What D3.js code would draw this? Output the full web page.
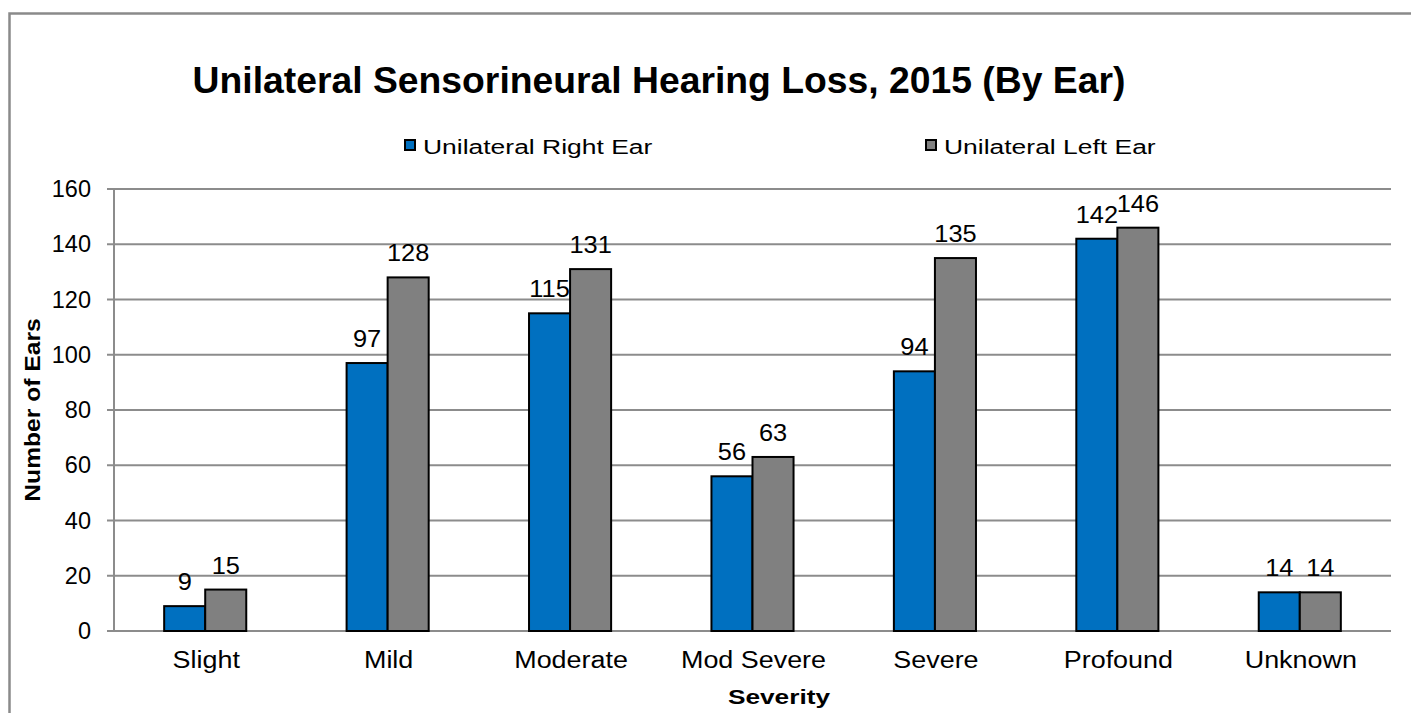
<!DOCTYPE html>
<meta charset="utf-8">
<script src="https://d3js.org/d3.v7.min.js"></script>
<style>
  body { margin: 0; background: #fff; }
  text { font-family: "Liberation Sans", Arial, sans-serif; fill: #000; }
</style>
<div id="chart"></div>
<script>

// data
var categories = ["Slight", "Mild", "Moderate", "Mod Severe", "Severe", "Profound", "Unknown"];
var seriesNames = ["Unilateral Right Ear", "Unilateral Left Ear"];
var rightEar = [9, 97, 115, 56, 94, 142, 14];
var leftEar = [15, 128, 131, 63, 135, 146, 14];
var yTicks = [0, 20, 40, 60, 80, 100, 120, 140, 160];
var colors = ["#0070C0", "#808080"];

var width = 1411, height = 713;
var margin = {left: 114, right: 20, top: 189, bottom: 82};

var svg = d3.select("#chart").append("svg")
    .attr("width", width)
    .attr("height", height);

// outer chart border (right/bottom edges are off the picture)
svg.append("rect")
    .attr("x", 9.5).attr("y", 13.5)
    .attr("width", 1430).attr("height", 740)
    .attr("fill", "none")
    .attr("stroke", "#8a8a8a")
    .attr("stroke-width", 2.5);

var x = d3.scaleBand()
    .domain(categories)
    .range([margin.left, width - margin.right]);

var groupW = x.bandwidth() * 0.45;
var xs = d3.scaleBand()
    .domain(d3.range(seriesNames.length))
    .range([0, groupW]);

var y = d3.scaleLinear()
    .domain([0, 160])
    .range([height - margin.bottom, margin.top]);

// gridlines
svg.append("g")
  .selectAll("line")
  .data(yTicks)
  .enter().append("line")
    .attr("x1", margin.left - 7)
    .attr("x2", width - margin.right)
    .attr("y1", d => y(d))
    .attr("y2", d => y(d))
    .attr("stroke", "#8c8c8c")
    .attr("stroke-width", 2);

// y axis line
svg.append("line")
    .attr("x1", margin.left).attr("x2", margin.left)
    .attr("y1", y(160)).attr("y2", y(0))
    .attr("stroke", "#8c8c8c")
    .attr("stroke-width", 2);

// y tick labels
svg.append("g")
  .selectAll("text")
  .data(yTicks)
  .enter().append("text")
    .attr("x", 91)
    .attr("y", d => y(d))
    .attr("dy", "0.35em")
    .attr("text-anchor", "end")
    .style("font-size", "23.5px")
    .text(d => d);

// bars
var data = categories.map(function(c, i) {
  return {cat: c, values: [rightEar[i], leftEar[i]]};
});

var groups = svg.append("g")
  .selectAll("g")
  .data(data)
  .enter().append("g")
    .attr("transform", d => "translate(" + (x(d.cat) + (x.bandwidth() - groupW) / 2) + ",0)");

groups.selectAll("rect")
  .data(d => d.values)
  .enter().append("rect")
    .attr("x", (d, i) => xs(i))
    .attr("y", d => y(d))
    .attr("width", xs.bandwidth())
    .attr("height", d => y(0) - y(d))
    .attr("fill", (d, i) => colors[i])
    .attr("stroke", "#000")
    .attr("stroke-width", 2);

// bar value labels (slightly widened like the original)
groups.selectAll("text")
  .data(d => d.values)
  .enter().append("text")
    .attr("transform", (d, i) => "translate(" + (xs(i) + xs.bandwidth() / 2) + "," + (y(d) - 16) + ") scale(1.08,1)")
    .attr("text-anchor", "middle")
    .style("font-size", "23.5px")
    .text(d => d);

// x category labels
svg.append("g")
  .selectAll("text")
  .data(categories)
  .enter().append("text")
    .attr("transform", d => "translate(" + (x(d) + x.bandwidth() / 2 + 1) + ",668) scale(1.17,1)")
    .attr("text-anchor", "middle")
    .style("font-size", "23px")
    .text(d => d);

// title
svg.append("text")
    .attr("x", 659)
    .attr("y", 93)
    .attr("text-anchor", "middle")
    .style("font-size", "37.3px")
    .style("font-weight", "bold")
    .text("Unilateral Sensorineural Hearing Loss, 2015 (By Ear)");

// axis titles
svg.append("text")
    .attr("transform", "translate(779,704) scale(1.25,1)")
    .attr("text-anchor", "middle")
    .style("font-size", "21px")
    .style("font-weight", "bold")
    .text("Severity");

svg.append("text")
    .attr("transform", "translate(40," + y(80) + ") rotate(-90) scale(1.12,1)")
    .attr("text-anchor", "middle")
    .style("font-size", "22px")
    .style("font-weight", "bold")
    .text("Number of Ears");

// legend
var legendX = [404, 925];
var legend = svg.append("g")
  .selectAll("g")
  .data(seriesNames)
  .enter().append("g")
    .attr("transform", (d, i) => "translate(" + legendX[i] + ",139)");

legend.append("rect")
    .attr("x", 1).attr("y", 1)
    .attr("width", 10).attr("height", 10)
    .attr("fill", (d, i) => colors[i])
    .attr("stroke", "#000")
    .attr("stroke-width", 2);

legend.append("text")
    .attr("transform", "translate(19,14.5) scale(1.26,1)")
    .style("font-size", "21px")
    .text(d => d);

</script>
